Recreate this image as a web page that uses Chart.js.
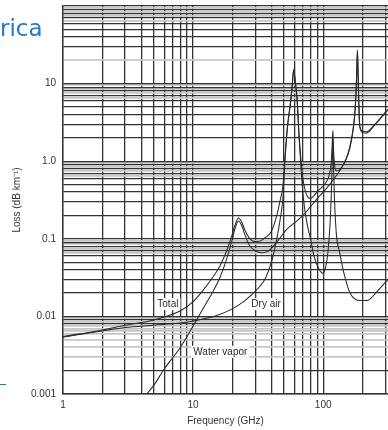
<!DOCTYPE html>
<html><head><meta charset="utf-8">
<script src="https://cdn.jsdelivr.net/npm/chart.js@4.4.1/dist/chart.umd.min.js"></script>
<style>
html,body{margin:0;padding:0;background:#fff;}
#wrap{position:relative;width:388px;height:430px;overflow:hidden;background:#fff;}
#c{position:absolute;left:0;top:0;}
#slideTitle{position:absolute;left:0px;top:15px;font:23px "DejaVu Sans",sans-serif;color:#1f78d1;line-height:27px;}
#blueRule{position:absolute;left:0;top:384px;width:6px;height:1px;background:#3b6db5;}
</style></head><body>
<div id="wrap"><canvas id="c" width="388" height="430"></canvas><div id="slideTitle">rica</div><div id="blueRule"></div></div>
<script>
// ---- data ----
const totalFreq = [1, 2, 3, 5, 8, 10, 12, 14, 16, 18, 20, 21, 22.3, 23.5, 25, 27, 30, 33, 36, 40, 44, 47, 49, 51, 53, 56.5, 58, 59.3, 60.5, 63, 65.4, 68, 70.2, 75, 80, 85, 92, 99, 104, 110, 113.5, 115.5, 117.3, 118.75, 120, 122, 126, 134, 145, 155, 163, 170, 175, 179, 181.5, 183.3, 185, 188, 191, 200, 215, 250, 315];
const totalLoss = [0.0055, 0.0067, 0.0077, 0.009, 0.0118, 0.0155, 0.022, 0.031, 0.044, 0.068, 0.114, 0.15, 0.185, 0.168, 0.13, 0.103, 0.092, 0.094, 0.104, 0.125, 0.2, 0.33, 0.48, 1.2, 2.7, 6.4, 10.2, 15.2, 12.2, 6.4, 2.1, 0.9, 0.56, 0.36, 0.33, 0.36, 0.42, 0.47, 0.52, 0.62, 0.78, 1.0, 1.65, 2.5, 1.5, 0.95, 0.75, 0.78, 0.95, 1.25, 1.75, 2.6, 4.0, 8.0, 16, 27, 16, 5.5, 2.9, 2.45, 2.4, 3.0, 4.7];

const dryFreq = [1, 2, 3, 5, 8, 10, 15, 20, 25, 30, 33, 36, 40, 44, 47, 49, 51, 53, 56.5, 58, 59.3, 60.5, 63, 65.4, 68, 70.2, 75, 80, 85, 92, 99, 104, 108, 111, 113.5, 115.5, 117.3, 118.75, 120, 122, 126, 134, 145, 161, 190, 217, 260, 315];
const dryLoss = [0.0054, 0.0065, 0.0072, 0.0077, 0.0082, 0.0087, 0.0102, 0.0125, 0.016, 0.021, 0.025, 0.031, 0.05, 0.1, 0.19, 0.33, 1.1, 2.6, 6.2, 10, 15, 12, 6.2, 1.9, 0.7, 0.35, 0.16, 0.1, 0.06, 0.042, 0.036, 0.042, 0.06, 0.1, 0.18, 0.38, 1.0, 1.9, 0.9, 0.35, 0.12, 0.066, 0.035, 0.02, 0.016, 0.016, 0.021, 0.03];

const vaporFreq = [4.4, 5, 6, 8, 10, 12, 14, 16, 18, 20, 21, 22.3, 23.5, 25, 27, 30, 34, 38, 45, 52, 60, 70, 80, 90, 100, 110, 120, 130, 140, 150, 160, 168, 174, 179, 181.5, 183.3, 185, 188, 191, 200, 215, 250, 315];
const vaporLoss = [0.001, 0.0013, 0.0021, 0.004, 0.0075, 0.0128, 0.02, 0.031, 0.053, 0.098, 0.135, 0.17, 0.152, 0.113, 0.083, 0.07, 0.066, 0.07, 0.095, 0.13, 0.16, 0.2, 0.26, 0.33, 0.4, 0.48, 0.58, 0.7, 0.85, 1.05, 1.45, 2.25, 3.7, 7.6, 15.5, 26, 15.5, 5.2, 2.8, 2.35, 2.3, 2.95, 4.6];

const xTickValues = [1, 10, 100];
const xTickLabels = ['1', '10', '100'];
const yTickValues = [0.001, 0.01, 0.1, 1, 10];
const yTickLabels = ['0.001', '0.01', '0.1', '1.0', '10'];

const curveLabels = ['Total', 'Dry air', 'Water vapor'];
const curveLabelFreq = [6.4, 36.4, 16.2];
const curveLabelLoss = [0.0144, 0.0144, 0.0035];

// ---- grid helpers (log paper) ----
const mantissas = [1, 2, 3, 4, 5, 6, 7, 8, 9];
const halfMantissas = [6.5, 7.5, 8.5, 9.5];
function near(a, b) { return Math.abs(a - b) < Math.abs(b) * 1e-6; }
function buildX() {
  const t = [];
  for (let e = 0; e <= 2; e++) for (const m of mantissas) { const v = m * Math.pow(10, e); if (v <= 315) t.push({value: v}); }
  return t;
}
function buildY() {
  const t = [];
  for (let e = -3; e <= 1; e++) {
    for (const m of mantissas) {
      const v = m * Math.pow(10, e);
      let gray = false;
      if (e === 1 && m === 2) gray = true;
      if (e === -3 && m >= 3 && m <= 7) gray = true;
      t.push({value: v, gray: gray});
    }
    for (const m of halfMantissas) t.push({value: m * Math.pow(10, e), gray: true, half: true});
  }
  t.push({value: 100, gray: false});
  t.sort((a, b) => a.value - b.value);
  return t;
}
function pts(f, l) { return f.map((x, i) => ({x: x, y: l[i]})); }

const DARK = '#333333';
const GRAY = '#c6c6c6';
const FONT = '"Liberation Sans", Arial, Helvetica, sans-serif';

const labelPlugin = {
  id: 'curveLabels',
  beforeDatasetsDraw(chart) {
    const {ctx, scales: {x, y}} = chart;
    ctx.save();
    ctx.font = '10px ' + FONT;
    ctx.textAlign = 'center';
    ctx.textBaseline = 'middle';
    curveLabels.forEach((s, i) => {
      const px = x.getPixelForValue(curveLabelFreq[i]);
      const py = y.getPixelForValue(curveLabelLoss[i]);
      const w = ctx.measureText(s).width;
      ctx.fillStyle = '#fff';
      ctx.fillRect(px - w / 2 - 2, py - 6, w + 4, 12);
      ctx.fillStyle = '#2a2a2a';
      ctx.fillText(s, px, py);
    });
    ctx.restore();
  }
};

const lineStyle = {borderColor: '#2a2a2a', borderWidth: 1.05, pointRadius: 0, fill: false, cubicInterpolationMode: 'monotone'};

new Chart(document.getElementById('c'), {
  type: 'line',
  data: {
    datasets: [
      Object.assign({label: 'Total', data: pts(totalFreq, totalLoss)}, lineStyle),
      Object.assign({label: 'Dry air', data: pts(dryFreq, dryLoss)}, lineStyle),
      Object.assign({label: 'Water vapor', data: pts(vaporFreq, vaporLoss)}, lineStyle)
    ]
  },
  options: {
    responsive: false,
    animation: false,
    layout: {padding: {top: 6, left: 0, right: 0, bottom: 0}},
    plugins: {legend: {display: false}, tooltip: {enabled: false}},
    scales: {
      x: {
        type: 'logarithmic', min: 1, max: 315,
        afterBuildTicks: s => { s.ticks = buildX(); },
        afterFit: s => { s.height = 36; s.paddingLeft = 0; s.paddingRight = 0; },
        grid: {color: DARK, lineWidth: 1.3, drawTicks: false},
        border: {display: true, color: DARK, width: 1.4},
        ticks: {
          autoSkip: false, maxRotation: 0, padding: 5, color: '#333', font: {family: FONT, size: 10},
          callback: v => { const i = xTickValues.findIndex(t => near(v, t)); return i >= 0 ? xTickLabels[i] : ''; }
        },
        title: {display: true, text: 'Frequency (GHz)', color: '#333', font: {family: FONT, size: 10}, padding: {top: 0, bottom: 3}}
      },
      y: {
        type: 'logarithmic', min: 0.001, max: 100,
        afterBuildTicks: s => { s.ticks = buildY(); },
        afterFit: s => { s.width = 63; s.paddingTop = 0; s.paddingBottom = 0; },
        grid: {
          drawTicks: false,
          color: c => (c.tick && c.tick.gray) ? GRAY : DARK,
          lineWidth: c => (c.tick && c.tick.gray) ? 1.8 : 1.3
        },
        border: {display: true, color: DARK, width: 1.4},
        ticks: {
          autoSkip: false, padding: 7, color: '#333', font: {family: FONT, size: 10},
          callback: v => { const i = yTickValues.findIndex(t => near(v, t)); return i >= 0 ? yTickLabels[i] : ''; }
        },
        title: {display: true, text: 'Loss (dB km\u207B\u00B9)', color: '#333', font: {family: FONT, size: 10}, padding: {top: 11, bottom: 0}}
      }
    }
  },
  plugins: [labelPlugin]
});
</script>
</body></html>
